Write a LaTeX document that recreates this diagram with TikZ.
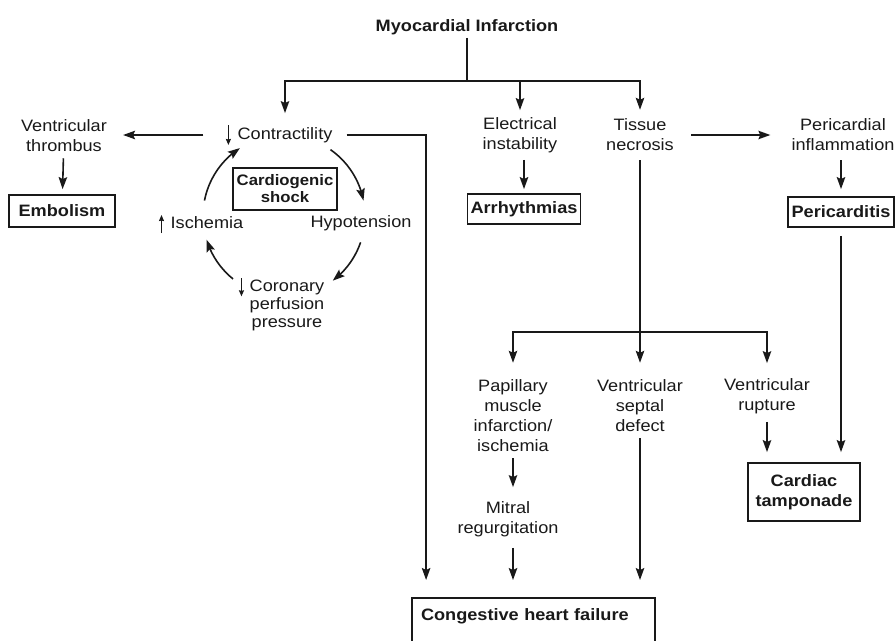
\documentclass[tikz,border=0pt]{standalone}
\usepackage{fontspec}
\setmainfont{Liberation Sans}[FakeStretch=1.1]
\usetikzlibrary{arrows.meta,bending}

\tikzset{
	line/.style={draw=black!90, line width=1.6pt},
	arr/.style={line, -{Stealth[length=12pt,width=8.5pt,inset=2pt]}},
	tinyarr/.style={draw=black!90, line width=1.2pt, -{Stealth[length=6pt,width=5pt,inset=0.5pt]}},
	lbl/.style={align=center, inner sep=3pt, text=black!90, font=\fontsize{16.5}{20}\selectfont},
	boxed/.style={lbl, draw=black!90, line width=1.8pt, font=\bfseries\fontsize{16.5}{20}\selectfont},
}

\begin{document}
\begin{tikzpicture}[x=1pt, y=1pt]
	\useasboundingbox (0,0) rectangle (896,-640);

	\node[lbl, font=\bfseries\fontsize{16.5}{20}\selectfont] (mi) at (467,-27) {Myocardial Infarction};
	\coordinate (bar) at (467,-81);
	\coordinate (split) at (640,-332);

	% cardiogenic shock cycle
	\node[lbl] (contr) at (285,-135) {Contractility};
	\node[lbl] (hypo) at (361,-223) {Hypotension};
	\node[lbl] (isch) at (207,-223) {Ischemia};
	\node[lbl, font=\fontsize{16.5}{18}\selectfont] (coron) at (287,-305) {Coronary\\perfusion\\pressure};
	\node[boxed, minimum width=104pt, minimum height=42pt, font=\bfseries\fontsize{15.2}{17}\selectfont] (shock) at (285,-189) {Cardiogenic\\shock};
	\coordinate (cyc) at (284,-216);

	\node[lbl] (thromb) at (64,-136) {Ventricular\\thrombus};
	\node[boxed, minimum width=106pt, minimum height=32pt] (embol) at (62,-211) {Embolism};

	\node[lbl] (elec) at (520,-135) {Electrical\\instability};
	\node[boxed, minimum width=112pt, minimum height=30pt] (arrh) at (524,-209) {Arrhythmias};

	\node[lbl] (tissue) at (640,-135) {Tissue\\necrosis};
	\node[lbl] (peri) at (843,-135) {Pericardial\\inflammation};
	\node[boxed, minimum width=106pt, minimum height=30pt] (pcard) at (841,-212) {Pericarditis};

	\node[lbl] (pap) at (513,-416) {Papillary\\muscle\\infarction/\\ischemia};
	\node[lbl] (mitral) at (508,-519) {Mitral\\regurgitation};
	\node[lbl] (vsd) at (640,-406) {Ventricular\\septal\\defect};
	\node[lbl] (rupt) at (767,-396) {Ventricular\\rupture};
	\node[boxed, minimum width=112pt, minimum height=58pt] (tamp) at (804,-492) {Cardiac\\tamponade};
	\node[boxed, anchor=north, text width=225pt, align=left, inner xsep=9pt, inner ysep=8pt, text height=15pt, text depth=22pt] (chf) at (533.5,-597) {Congestive heart failure};

	% from the infarction
	\draw[line] (mi.south) -- (bar);
	\draw[arr, shorten >=11pt] (bar) -| (contr);
	\draw[arr, shorten >=4pt] (bar) -| (elec);
	\draw[arr, shorten >=6pt] (bar) -| (tissue);

	\draw[arr, shorten <=31pt, shorten >=13pt] (contr.west) -- (contr.west -| thromb.east);
	\draw[arr, shorten <=11pt, shorten >=17pt] (contr.east) -| ([xshift=15pt]chf.north west);
	\draw[arr, shorten <=14pt, shorten >=18pt] (tissue.east) -- (tissue.east -| peri.west);

	\path
		(thromb) edge[arr, shorten <=3pt, shorten >=5pt] (embol)
		(elec.south -| arrh.north) edge[arr, shorten <=4pt, shorten >=4pt] (arrh)
		(peri.south -| pcard.north) edge[arr, shorten <=6pt, shorten >=7pt] (pcard)
		(pcard) edge[arr, shorten <=8pt, shorten >=10pt] (pcard.south |- tamp.north)
		(rupt) edge[arr, shorten <=5pt, shorten >=10pt] (rupt.south |- tamp.north)
		(pap) edge[arr, shorten <=3pt, shorten >=11pt] (pap.south |- mitral.north)
		(pap.south |- mitral.south) edge[arr, shorten <=8pt, shorten >=17pt] (pap.south |- chf.north)
		(vsd) edge[arr, shorten <=3pt, shorten >=17pt] (vsd.south |- chf.north);

	\draw[line, shorten <=6pt] (tissue) -- (split);
	\draw[arr, shorten >=14pt] (split) -| (pap);
	\draw[arr, shorten >=14pt] (split) -- (vsd);
	\draw[arr, shorten >=12pt] (split) -| (rupt);

	% the cycle
	\draw[arr] ([shift={(55:81pt)}]cyc) arc[start angle=55, end angle=11, radius=81pt];
	\draw[arr] ([shift={(-19:81pt)}]cyc) arc[start angle=-19, end angle=-53, radius=81pt];
	\draw[arr] ([shift={(231:81pt)}]cyc) arc[start angle=231, end angle=197, radius=81pt];
	\draw[arr] ([shift={(169:81pt)}]cyc) arc[start angle=169, end angle=123, radius=81pt];

	\draw[tinyarr] ([xshift=-6pt, yshift=10pt]contr.west) -- ([xshift=-6pt, yshift=-10pt]contr.west);
	\draw[tinyarr] ([xshift=-6pt, yshift=-10pt]isch.west) -- ([xshift=-6pt, yshift=8pt]isch.west);
	\draw[tinyarr] ([xshift=-5pt, yshift=-2pt]coron.north west) -- ([xshift=-5pt, yshift=-20pt]coron.north west);
\end{tikzpicture}
\end{document}
